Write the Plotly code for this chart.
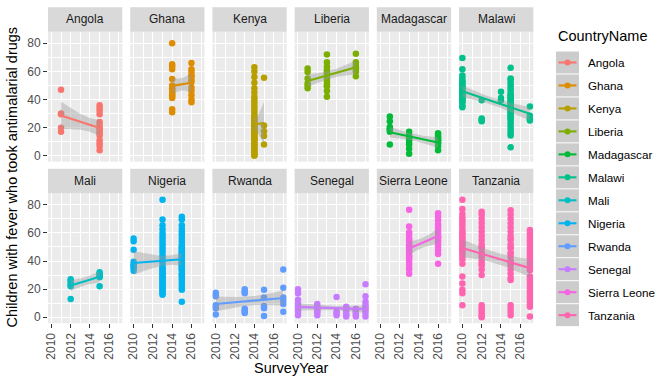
import numpy as np
import plotly.graph_objects as go

W, H = 672, 384

countries = ["Angola", "Ghana", "Kenya", "Liberia", "Madagascar", "Malawi",
             "Mali", "Nigeria", "Rwanda", "Senegal", "Sierra Leone", "Tanzania"]
colors = ["#F8766D", "#DE8C00", "#B79F00", "#7CAE00", "#00BA38", "#00C08B",
          "#00BFC4", "#00B4F0", "#619CFF", "#C77CFF", "#F564E3", "#FF64B0"]

# ---- data: survey year -> values (children with fever who took antimalarials, %) ----
angola = {2011: [47, 30, 29.5, 20, 17],
          2015: [36, 34, 32, 29.5, 24, 22, 20, 17.5, 14.5, 11, 7, 4, 19, 16, 9]}
ghana = {2014: [80, 65, 63.5, 61.5, 54.5, 50, 48, 47.5, 46, 45, 44, 43, 42, 41, 33, 31],
         2016: [66, 61.5, 59.5, 56.5, 52.5, 48.5, 46, 43, 40, 38, 57, 54]}
kenya = {2014: [63, 60, 56, 52, 48, 45, 42, 40, 38, 36, 34, 32, 30, 28, 27, 26, 25, 24,
                23, 22, 21, 20, 19, 18, 17, 16, 15, 14, 13, 12, 11, 10, 9, 8, 7, 6, 5,
                4, 3, 2, 1, 0, 0.5, 12.5, 15.5, 18.5, 20.5],
         2015: [55.5, 21.5, 17.5, 14, 8]}
liberia = {2011: [62, 59.5, 55, 51.5, 48, 50],
           2013: [72, 66.5, 63.5, 61, 58.5, 55.5, 52.5, 49.5, 46, 42, 57, 54, 60, 50],
           2016: [72.5, 66.5, 63, 60, 56.5, 62, 64]}
madagascar = {2011: [28, 24.5, 20.5, 18.5, 8, 17, 19],
              2013: [17, 14.5, 11.5, 8, 5, 1.5, 13, 10],
              2016: [16, 14.5, 13, 11, 9, 7, 4, 12, 10]}
malawi = {2010: [69.5, 61.5, 55, 52.5, 50, 48, 47.5, 46, 45, 44, 43, 42, 41, 40.5, 39,
                 38, 36, 34.5, 49, 51, 53, 57, 44.5, 42.5, 40],
          2012: [39.5, 26.5, 24.5, 25.5],
          2014: [45.5, 39.5, 41],
          2015: [62.5, 55, 54, 52, 50, 48, 46, 44, 42, 40, 38, 36, 34, 32, 30, 28, 26,
                 24, 22, 20, 18, 16, 14.5, 6, 35, 33, 31, 29, 27, 37, 39, 41, 43],
          2017: [35, 28.5, 25, 27, 26]}
mali = {2012: [27, 24.5, 22, 13, 26, 23],
        2015: [32, 30, 28.5, 22, 31, 29]}
nigeria = {2010: [56, 54, 48, 39.5, 37.5, 37, 36, 35, 33],
           2013: [83.5, 69.5, 65.5, 62.5, 60, 58, 56, 54, 52, 50, 48, 46, 44, 42, 40,
                  38, 36, 34, 32, 30, 28, 26, 24, 22, 20, 18, 16, 35, 17, 19, 21, 23,
                  33, 31, 29, 27, 25],
           2015: [71.5, 69.5, 65.5, 63, 61, 59, 57, 55, 53, 51, 49, 47, 45, 43, 41, 39,
                  37, 35, 33, 31, 29, 27, 25, 23, 21, 19.5, 11, 44, 42, 40, 38, 36, 34,
                  46, 48, 30, 50]}
rwanda = {2010: [17.5, 16, 8.5, 6.5, 2, 7.5, 15],
          2013: [20, 17, 6, 4, 3, 18.5, 5],
          2015: [19.5, 14, 6.5, 1, 8],
          2017: [34, 21, 14, 9.5, 4, 12]}
senegal = {2010: [20, 17, 12.5, 10, 8, 6.5, 4.5, 3, 1.5, 7, 5, 9],
           2012: [9.5, 7.5, 5.5, 3.5, 1.5, 6.5, 4.5],
           2014: [14.5, 4, 1.5, 3],
           2015: [7.5, 5, 3, 0.5, 6, 2],
           2016: [6, 4, 2, 0.5, 3, 5],
           2017: [23.5, 15, 11, 7.5, 5, 3, 0.5, 9, 6]}
sierra_leone = {2013: [76.5, 64.5, 60.5, 58.5, 56, 54, 52, 50, 48, 46, 44, 42, 40, 38,
                       36, 34, 31, 55, 51, 47, 43],
                2016: [74, 71.5, 69, 66, 64, 62, 60, 58, 56, 54, 52, 50, 47.5, 38, 57, 45]}
tanzania = {2010: [83.5, 77, 73.5, 71, 69, 67, 65, 63, 61, 59, 57, 55, 53, 51, 49, 47,
                   45, 43, 41, 38, 29, 24, 19.5, 17, 8.5, 60, 56, 52, 48],
            2012: [75, 73, 70, 67, 64, 61, 58, 55, 52, 49, 46, 43, 40, 37, 34, 30, 8.5,
                   6.5, 3, 0, 1.5, 5, 50, 44, 38],
            2015: [76, 73, 70, 67, 64, 61, 58, 55, 52, 49, 46, 43, 40, 37, 34, 31, 28,
                   26.5, 8.5, 6.5, 1.5, 4, 45, 39, 50, 56],
            2017: [62, 60, 58, 56, 54, 52, 50, 48, 46, 44, 42, 40, 38, 36, 33.5, 29, 27,
                   25, 23, 21, 19, 17, 15, 13, 11, 9, 7.5, 0.5]}

country_data = [angola, ghana, kenya, liberia, madagascar, malawi,
                mali, nigeria, rwanda, senegal, sierra_leone, tanzania]

x_ticks = [2010, 2012, 2014, 2016]
y_ticks = [0, 20, 40, 60, 80]
x_range = [2009.65, 2017.35]
y_range = [-4.2, 88.2]
x_title = "SurveyYear"
y_title = "Children with fever who took antimalarial drugs"
legend_title = "CountryName"

# ---- geometry (pixels) ----
col_left0, col_step, panel_w = 48.0, 82.2, 74.3
row_top = [31.7, 193.2]
panel_h = 130.0
strip_h = 24.5
FONT = "Liberation Sans, Arial, sans-serif"
TICK_SIZE = 12


def px(x):
    return x / W


def py(y):
    return 1 - y / H


def t975(df):
    z = 1.959964
    g1 = (z**3 + z) / 4
    g2 = (5 * z**5 + 16 * z**3 + 3 * z) / 96
    g3 = (3 * z**7 + 19 * z**5 + 17 * z**3 - 15 * z) / 384
    g4 = (79 * z**9 + 776 * z**7 + 1482 * z**5 - 1920 * z**3 - 945 * z) / 92160
    return z + g1 / df + g2 / df**2 + g3 / df**3 + g4 / df**4


fig = go.Figure()
layout = dict(width=W, height=H, margin=dict(l=0, r=0, t=0, b=0),
              paper_bgcolor="white", plot_bgcolor="#EBEBEB", showlegend=False,
              font=dict(family=FONT, color="#4D4D4D", size=TICK_SIZE))
shapes = []
annotations = []

for k, (name, col, d) in enumerate(zip(countries, colors, country_data)):
    r, c = divmod(k, 6)
    xs = np.array([yr for yr, vals in d.items() for _ in vals], dtype=float)
    ys = np.array([v for vals in d.values() for v in vals], dtype=float)
    suffix = "" if k == 0 else str(k + 1)
    xa, ya = "x" + suffix, "y" + suffix

    left = col_left0 + c * col_step
    top = row_top[r]
    layout["xaxis" + suffix] = dict(
        domain=[px(left), px(left + panel_w)], anchor=ya, range=x_range,
        tickmode="array", tickvals=x_ticks, ticktext=[str(t) for t in x_ticks],
        showticklabels=(r == 1), tickangle=-90, automargin=False,
        ticks="outside" if r == 1 else "", ticklen=4, tickwidth=1, tickcolor="#333333",
        showgrid=True, gridcolor="white", gridwidth=1.2, zeroline=False, showline=False,
        minor=dict(tickvals=[2011, 2013, 2015, 2017], showgrid=True, gridcolor="white",
                   gridwidth=0.6, ticks=""),
        tickfont=dict(size=TICK_SIZE, color="#4D4D4D", family=FONT), fixedrange=True)
    layout["yaxis" + suffix] = dict(
        domain=[py(top + panel_h), py(top)], anchor=xa, range=y_range,
        tickmode="array", tickvals=y_ticks, ticktext=[str(t) for t in y_ticks],
        showticklabels=(c == 0), ticks="outside" if c == 0 else "", ticklen=4,
        tickwidth=1, tickcolor="#333333", automargin=False,
        showgrid=True, gridcolor="white", gridwidth=1.2, zeroline=False, showline=False,
        minor=dict(tickvals=[10, 30, 50, 70], showgrid=True, gridcolor="white",
                   gridwidth=0.6, ticks=""),
        tickfont=dict(size=TICK_SIZE, color="#4D4D4D", family=FONT), fixedrange=True)

    # strip
    shapes.append(dict(type="rect", xref="paper", yref="paper",
                       x0=px(left), x1=px(left + panel_w),
                       y0=py(top), y1=py(top - strip_h),
                       fillcolor="#D9D9D9", line=dict(width=0), layer="below"))
    annotations.append(dict(xref="paper", yref="paper", x=px(left + panel_w / 2),
                            y=py(top - strip_h / 2), text=name, showarrow=False,
                            xanchor="center", yanchor="middle",
                            font=dict(size=12, color="#1A1A1A", family=FONT)))

    # points
    fig.add_trace(go.Scatter(x=xs, y=ys, mode="markers", xaxis=xa, yaxis=ya,
                             marker=dict(color=col, size=6.5, line=dict(width=0)),
                             hoverinfo="skip"))

    # linear fit with 95% confidence band (like geom_smooth(method="lm"))
    n = len(xs)
    xm = xs.mean()
    sxx = ((xs - xm) ** 2).sum()
    b1 = ((xs - xm) * (ys - ys.mean())).sum() / sxx
    b0 = ys.mean() - b1 * xm
    s = np.sqrt(((ys - (b0 + b1 * xs)) ** 2).sum() / (n - 2))
    xg = np.linspace(xs.min(), xs.max(), 80)
    fit = b0 + b1 * xg
    se = s * np.sqrt(1 / n + (xg - xm) ** 2 / sxx)
    tq = t975(n - 2)
    upper, lower = fit + tq * se, fit - tq * se
    fig.add_trace(go.Scatter(x=np.concatenate([xg, xg[::-1]]),
                             y=np.concatenate([upper, lower[::-1]]),
                             mode="lines", fill="toself",
                             fillcolor="rgba(153,153,153,0.4)", line=dict(width=0),
                             xaxis=xa, yaxis=ya, hoverinfo="skip"))
    fig.add_trace(go.Scatter(x=xg, y=fit, mode="lines", xaxis=xa, yaxis=ya,
                             line=dict(color=col, width=2.1), hoverinfo="skip"))

# axis titles
annotations.append(dict(xref="paper", yref="paper", x=px(291), y=py(367.5), text=x_title,
                        showarrow=False, xanchor="center", yanchor="middle",
                        font=dict(size=14.5, color="black", family=FONT)))
annotations.append(dict(xref="paper", yref="paper", x=px(12), y=py(177.5), text=y_title,
                        showarrow=False, xanchor="center", yanchor="middle", textangle=-90,
                        font=dict(size=14.5, color="black", family=FONT)))

# legend (drawn as ggplot-style keys)
annotations.append(dict(xref="paper", yref="paper", x=px(555.5), y=py(36), text=legend_title,
                        showarrow=False, xanchor="left", yanchor="middle",
                        font=dict(size=14.5, color="black", family=FONT)))
key_top, key_step, key_x0, key_w = 51.0, 22.97, 556.0, 23.0
for i, (name, col) in enumerate(zip(countries, colors)):
    y0 = key_top + i * key_step
    yc = y0 + key_step / 2
    shapes.append(dict(type="rect", xref="paper", yref="paper",
                       x0=px(key_x0), x1=px(key_x0 + key_w), y0=py(y0 + 0.5),
                       y1=py(y0 + key_step - 0.5), fillcolor="#CCCCCC", line=dict(width=0)))
    shapes.append(dict(type="line", xref="paper", yref="paper",
                       x0=px(key_x0 + 2.5), x1=px(key_x0 + key_w - 2.5), y0=py(yc), y1=py(yc),
                       line=dict(color=col, width=2.1)))
    shapes.append(dict(type="circle", xref="paper", yref="paper",
                       x0=px(key_x0 + key_w / 2 - 3), x1=px(key_x0 + key_w / 2 + 3),
                       y0=py(yc - 3), y1=py(yc + 3), fillcolor=col, line=dict(width=0)))
    annotations.append(dict(xref="paper", yref="paper", x=px(586), y=py(yc), text=name,
                            showarrow=False, xanchor="left", yanchor="middle",
                            font=dict(size=11.7, color="black", family=FONT)))

layout["shapes"] = shapes
layout["annotations"] = annotations
fig.update_layout(**layout)
fig.write_html("out.html", config={"displayModeBar": False},
               post_script="document.body.style.margin='0px';document.body.style.padding='0px';")
